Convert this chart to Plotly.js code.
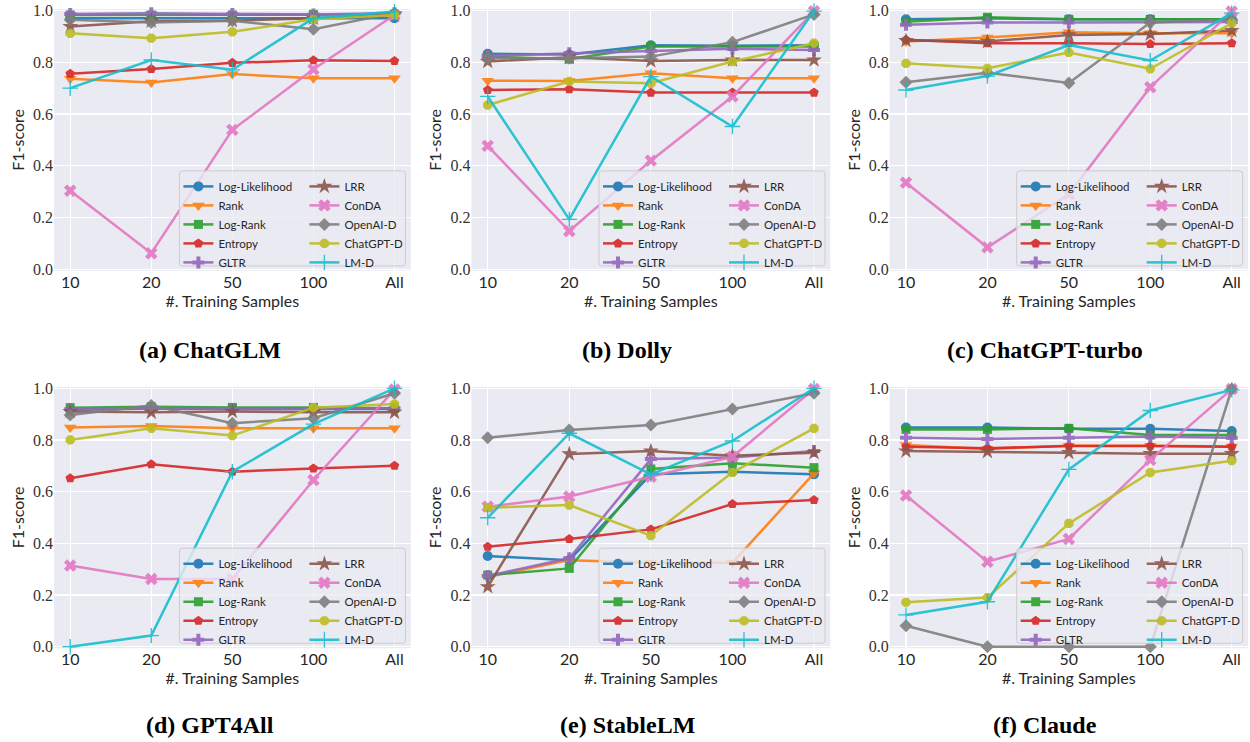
<!DOCTYPE html>
<html>
<head>
<meta charset="utf-8">
<script src="https://cdn.plot.ly/plotly-3.0.1.min.js"></script>
<style>html,body{margin:0;padding:0;background:#fff;}#chart{width:1250px;height:742px;}</style>
</head>
<body>
<div id="chart"></div>
<script>
// ---------- data ----------
const categories = ['10', '20', '50', '100', 'All'];
const methodNames = ['Log-Likelihood', 'Rank', 'Log-Rank', 'Entropy', 'GLTR', 'LRR', 'ConDA', 'OpenAI-D', 'ChatGPT-D', 'LM-D'];
const panelTitles = ['(a) ChatGLM', '(b) Dolly', '(c) ChatGPT-turbo', '(d) GPT4All', '(e) StableLM', '(f) Claude'];

// rows follow methodNames, columns follow categories
const chatglmF1 = [
  [0.970, 0.970, 0.970, 0.968, 0.970],
  [0.736, 0.722, 0.755, 0.738, 0.738],
  [0.983, 0.983, 0.983, 0.985, 0.985],
  [0.756, 0.774, 0.798, 0.808, 0.805],
  [0.987, 0.990, 0.987, 0.985, 0.990],
  [0.938, 0.959, 0.961, 0.970, 0.983],
  [0.304, 0.062, 0.539, 0.773, 0.983],
  [0.964, 0.954, 0.961, 0.928, 0.990],
  [0.912, 0.893, 0.918, 0.966, 0.983],
  [0.700, 0.809, 0.771, 0.970, 0.996]
];
const dollyF1 = [
  [0.833, 0.830, 0.866, 0.864, 0.866],
  [0.729, 0.728, 0.758, 0.738, 0.738],
  [0.822, 0.812, 0.861, 0.861, 0.861],
  [0.693, 0.696, 0.683, 0.683, 0.683],
  [0.825, 0.835, 0.844, 0.852, 0.848],
  [0.803, 0.820, 0.805, 0.809, 0.809],
  [0.477, 0.148, 0.420, 0.668, 0.997],
  [0.816, 0.816, 0.822, 0.878, 0.985],
  [0.635, 0.726, 0.719, 0.803, 0.874],
  [0.668, 0.193, 0.745, 0.552, 0.998]
];
const chatgptTurboF1 = [
  [0.966, 0.970, 0.966, 0.966, 0.966],
  [0.880, 0.896, 0.916, 0.912, 0.912],
  [0.957, 0.974, 0.966, 0.966, 0.966],
  [0.887, 0.874, 0.874, 0.871, 0.874],
  [0.945, 0.954, 0.954, 0.956, 0.956],
  [0.884, 0.880, 0.906, 0.909, 0.923],
  [0.335, 0.085, 0.290, 0.704, 0.996],
  [0.723, 0.760, 0.720, 0.954, 0.964],
  [0.796, 0.777, 0.838, 0.775, 0.951],
  [0.693, 0.747, 0.867, 0.807, 0.990]
];
const gpt4allF1 = [
  [0.918, 0.922, 0.920, 0.920, 0.920],
  [0.848, 0.854, 0.845, 0.845, 0.845],
  [0.925, 0.929, 0.926, 0.926, 0.923],
  [0.652, 0.706, 0.677, 0.690, 0.700],
  [0.919, 0.923, 0.920, 0.920, 0.923],
  [0.910, 0.907, 0.910, 0.907, 0.907],
  [0.314, 0.262, 0.262, 0.645, 0.995],
  [0.897, 0.933, 0.865, 0.884, 0.981],
  [0.800, 0.845, 0.817, 0.925, 0.939],
  [0.000, 0.043, 0.677, 0.861, 1.000]
];
const stableLMF1 = [
  [0.351, 0.335, 0.667, 0.677, 0.667],
  [0.270, 0.335, 0.325, 0.325, 0.671],
  [0.277, 0.303, 0.688, 0.710, 0.693],
  [0.387, 0.417, 0.454, 0.552, 0.568],
  [0.274, 0.342, 0.726, 0.732, 0.757],
  [0.232, 0.746, 0.757, 0.739, 0.751],
  [0.542, 0.581, 0.658, 0.735, 0.997],
  [0.809, 0.839, 0.858, 0.920, 0.981],
  [0.538, 0.548, 0.430, 0.675, 0.845],
  [0.499, 0.826, 0.667, 0.796, 1.000]
];
const claudeF1 = [
  [0.848, 0.848, 0.843, 0.843, 0.835],
  [0.781, 0.765, 0.778, 0.778, 0.775],
  [0.841, 0.841, 0.845, 0.819, 0.819],
  [0.774, 0.768, 0.777, 0.777, 0.774],
  [0.809, 0.804, 0.809, 0.813, 0.809],
  [0.757, 0.755, 0.751, 0.747, 0.747],
  [0.585, 0.329, 0.417, 0.723, 0.997],
  [0.081, 0.000, 0.000, 0.000, 0.997],
  [0.172, 0.190, 0.477, 0.674, 0.720],
  [0.123, 0.174, 0.686, 0.914, 0.994]
];
const panelData = [chatglmF1, dollyF1, chatgptTurboF1, gpt4allF1, stableLMF1, claudeF1];

// ---------- styles ----------
const colors = ['#1f77b4', '#ff7f0e', '#2ca02c', '#d62728', '#9467bd', '#8c564b', '#e377c2', '#7f7f7f', '#bcbd22', '#17becf'];
const symbols = ['circle', 'triangle-down', 'square', 'pentagon', 'cross', 'star', 'x', 'diamond', 'octagon', 'cross-thin'];
const sizes = [10, 11, 9, 10, 10, 12, 11, 10, 10, 11];

const W = 1250, H = 742;
const colLeft = [54, 471.4, 889.7], colRight = [410.7, 830.3, 1248];
const rowTop = [9, 386.75], rowBottom = [270.9, 648.25];
const captionX = [210, 627, 1045], captionY = [350, 725];

const px = x => x / W;
const py = y => 1 - y / H;

const traces = [];
const layout = {
  width: W, height: H,
  margin: {l: 0, r: 0, t: 0, b: 0},
  paper_bgcolor: '#ffffff',
  plot_bgcolor: '#EAEAF2',
  showlegend: true,
  annotations: [],
  shapes: []
};

const sans = 'Lato, "DejaVu Sans", sans-serif';
const serif = '"Liberation Serif", "DejaVu Serif", serif';

function rrectPath(x0, y0, x1, y1, r) {
  const X = v => px(v).toFixed(5), Y = v => py(v).toFixed(5);
  return 'M' + X(x0 + r) + ',' + Y(y0) +
    ' L' + X(x1 - r) + ',' + Y(y0) +
    ' Q' + X(x1) + ',' + Y(y0) + ' ' + X(x1) + ',' + Y(y0 + r) +
    ' L' + X(x1) + ',' + Y(y1 - r) +
    ' Q' + X(x1) + ',' + Y(y1) + ' ' + X(x1 - r) + ',' + Y(y1) +
    ' L' + X(x0 + r) + ',' + Y(y1) +
    ' Q' + X(x0) + ',' + Y(y1) + ' ' + X(x0) + ',' + Y(y1 - r) +
    ' L' + X(x0) + ',' + Y(y0 + r) +
    ' Q' + X(x0) + ',' + Y(y0) + ' ' + X(x0 + r) + ',' + Y(y0) + ' Z';
}

for (let p = 0; p < 6; p++) {
  const r = Math.floor(p / 3), c = p % 3;
  const n = p + 1;
  const xa = 'xaxis' + (n === 1 ? '' : n), ya = 'yaxis' + (n === 1 ? '' : n);
  const xid = 'x' + (n === 1 ? '' : n), yid = 'y' + (n === 1 ? '' : n);

  layout[xa] = {
    domain: [px(colLeft[c]), px(colRight[c])],
    anchor: yid,
    type: 'category',
    range: [-0.2, 4.2],
    showgrid: true, gridcolor: '#ffffff', gridwidth: 1.2,
    zeroline: false, showline: false, ticks: '',
    tickfont: {family: sans, size: 16, color: '#262626'},
    title: {text: '#. Training Samples', font: {family: sans, size: 16, color: '#262626'}, standoff: 2},
    fixedrange: true
  };
  layout[ya] = {
    domain: [py(rowBottom[r]), py(rowTop[r])],
    anchor: xid,
    range: [-0.006, 1.006],
    tick0: 0, dtick: 0.2, tickformat: '.1f',
    showgrid: true, gridcolor: '#ffffff', gridwidth: 1.2,
    zeroline: false, showline: false, ticks: '',
    tickfont: {family: serif, size: 16, color: '#333333'},
    title: {text: 'F1-score', font: {family: sans, size: 16, color: '#262626'}, standoff: 4},
    fixedrange: true
  };

  // legends: two columns per panel
  const boxRight = colRight[c] - 5.3;
  const boxBottom = rowBottom[r] - 5;
  const boxLeft = boxRight - 226;
  const boxTop = boxBottom - 95;
  const legA = 'legend' + (2 * p + 1 === 1 ? '' : (2 * p + 1));
  const legB = 'legend' + (2 * p + 2);
  const legCommon = {
    xref: 'paper', yref: 'paper', xanchor: 'left', yanchor: 'top',
    bgcolor: 'rgba(0,0,0,0)', borderwidth: 0,
    font: {family: sans, size: 11.5, color: '#262626'},
    orientation: 'v', tracegroupgap: 0
  };
  layout[legA] = Object.assign({}, legCommon, {x: px(boxLeft - 1), y: py(boxTop + 1)});
  layout[legB] = Object.assign({}, legCommon, {x: px(boxLeft + 125), y: py(boxTop + 1)});

  layout.shapes.push({
    type: 'path', xref: 'paper', yref: 'paper', layer: 'above',
    path: rrectPath(boxLeft, boxTop, boxRight, boxBottom, 3),
    fillcolor: 'rgba(234,234,242,0.8)',
    line: {color: '#cccccc', width: 1}
  });

  layout.annotations.push({
    text: '<b>' + panelTitles[p] + '</b>',
    xref: 'paper', yref: 'paper', x: px(captionX[c]), y: py(captionY[r]),
    xanchor: 'center', yanchor: 'middle', showarrow: false,
    font: {family: serif, size: 24, color: '#000000'}
  });

  const data = panelData[p];
  for (let m = 0; m < methodNames.length; m++) {
    const isThin = symbols[m] === 'cross-thin';
    traces.push({
      type: 'scatter', mode: 'lines+markers',
      x: categories, y: data[m],
      xaxis: xid, yaxis: yid,
      name: methodNames[m],
      legend: m < 5 ? legA : legB,
      opacity: 0.9,
      line: {color: colors[m], width: 2.5},
      marker: {
        symbol: symbols[m], size: sizes[m], color: colors[m],
        line: {width: isThin ? 1.3 : 0, color: colors[m]}
      },
      cliponaxis: false,
      hoverinfo: 'skip'
    });
  }
}

Plotly.newPlot('chart', traces, layout, {staticPlot: true, displayModeBar: false});
</script>
</body>
</html>
